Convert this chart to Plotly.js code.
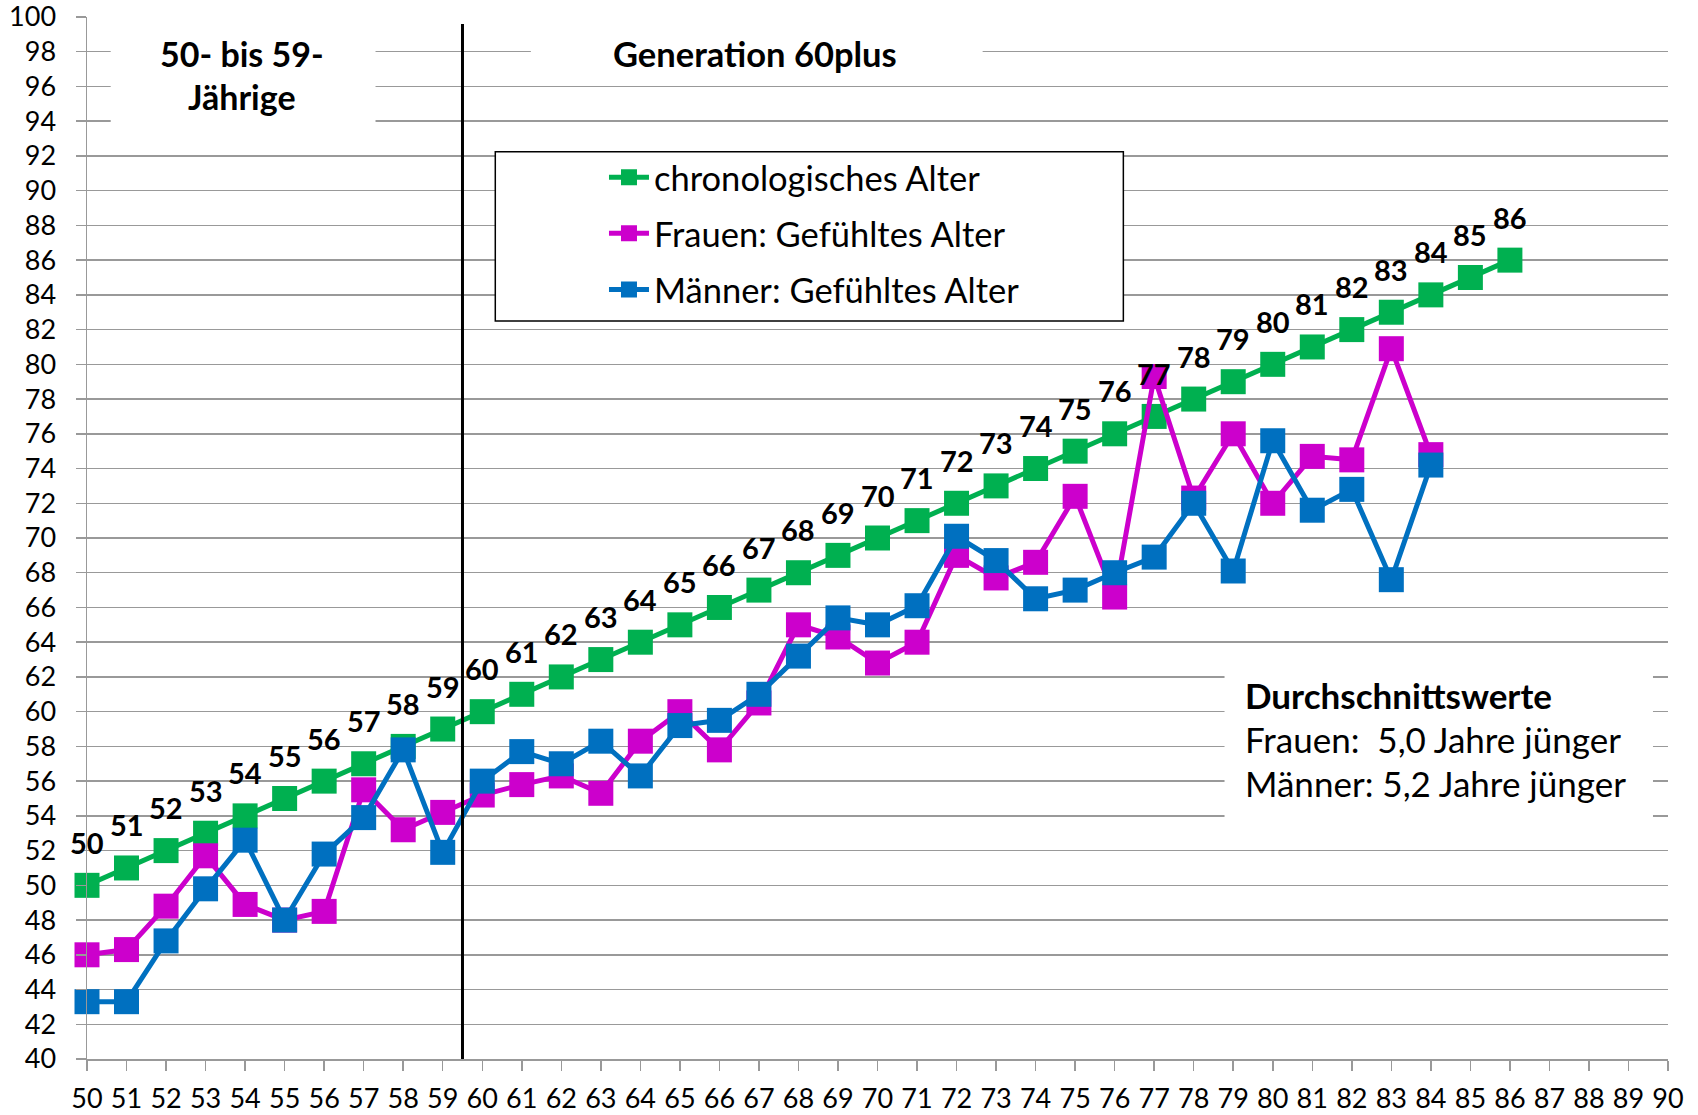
<!DOCTYPE html>
<html>
<head>
<meta charset="utf-8">
<script src="https://cdn.plot.ly/plotly-3.0.1.min.js"></script>
<style>html,body{margin:0;padding:0;background:#fff;}#chart{width:1698px;height:1115px;}</style>
</head>
<body>
<div id="chart"></div>
<script>
// ---- data ----
const ages = [50,51,52,53,54,55,56,57,58,59,60,61,62,63,64,65,66,67,68,69,70,71,72,73,74,75,76,77,78,79,80,81,82,83,84,85,86];
const chronologisch = [50,51,52,53,54,55,56,57,58,59,60,61,62,63,64,65,66,67,68,69,70,71,72,73,74,75,76,77,78,79,80,81,82,83,84,85,86];
const agesGefuehlt = [50,51,52,53,54,55,56,57,58,59,60,61,62,63,64,65,66,67,68,69,70,71,72,73,74,75,76,77,78,79,80,81,82,83,84];
const frauen = [46.0,46.3,48.8,51.7,48.9,48.0,48.5,55.5,53.2,54.2,55.2,55.8,56.3,55.3,58.3,60.0,57.8,60.5,65.0,64.3,62.8,64.0,69.0,67.7,68.6,72.4,66.6,79.3,72.3,76.0,72.0,74.7,74.5,80.9,74.8];
const maenner = [43.3,43.3,46.8,49.8,52.6,48.0,51.8,53.9,57.8,51.9,56.0,57.7,57.0,58.3,56.3,59.2,59.5,61.0,63.2,65.4,65.0,66.1,70.1,68.7,66.5,67.0,68.0,68.9,72.0,68.1,75.6,71.6,72.8,67.6,74.2];
const seriesNames = ["chronologisches Alter","Frauen: Gefühltes Alter","Männer: Gefühltes Alter"];
const groupLabels = ["50- bis 59-","Jährige","Generation 60plus"];
const avgTexts = ["<b>Durchschnittswerte</b>","Frauen:  5,0 Jahre jünger","Männer: 5,2 Jahre jünger"];

const FONT = "Lato, 'Open Sans', sans-serif";
const GREEN = "#00B050", MAGENTA = "#CC00CC", BLUE = "#0070C0";

function series(x, y, name, color, grp) {
  return {
    x: x, y: y, name: name, type: "scatter", mode: "lines+markers",
    line: {color: color, width: 5},
    marker: {symbol: "square", size: 25, color: color},
    cliponaxis: false, legendgroup: grp, hoverinfo: "x+y"
  };
}
const traces = [
  series(ages, chronologisch, seriesNames[0], GREEN, "g1"),
  series(agesGefuehlt, frauen, seriesNames[1], MAGENTA, "g2"),
  series(agesGefuehlt, maenner, seriesNames[2], BLUE, "g3")
];

const annotations = ages.map((a, i) => ({
  x: a, y: chronologisch[i], xref: "x", yref: "y", text: "<b>" + chronologisch[i] + "</b>",
  showarrow: false, yshift: 43, font: {family: FONT, size: 29, color: "#000"}
}));
annotations.push(
  {x: 53.93, y: 97.9, xref: "x", yref: "y", text: "<b>" + groupLabels[0] + "</b>", showarrow: false, font: {family: FONT, size: 34, color: "#000"}},
  {x: 53.93, y: 95.4, xref: "x", yref: "y", text: "<b>" + groupLabels[1] + "</b>", showarrow: false, font: {family: FONT, size: 34, color: "#000"}},
  {x: 66.9, y: 97.9, xref: "x", yref: "y", text: "<b>" + groupLabels[2] + "</b>", showarrow: false, font: {family: FONT, size: 34.5, color: "#000"}},
  {x: 79.25, y: 60.95, xref: "x", yref: "y", xanchor: "left", text: avgTexts[0], showarrow: false, font: {family: FONT, size: 35, color: "#000"}},
  {x: 79.25, y: 58.4, xref: "x", yref: "y", xanchor: "left", text: avgTexts[1], showarrow: false, font: {family: FONT, size: 35, color: "#000"}},
  {x: 79.25, y: 55.9, xref: "x", yref: "y", xanchor: "left", text: avgTexts[2], showarrow: false, font: {family: FONT, size: 35, color: "#000"}}
);

const shapes = [
  {type: "rect", xref: "x", yref: "y", x0: 50.6, x1: 57.3, y0: 92.9, y1: 99.2, fillcolor: "#fff", line: {width: 0}, layer: "between"},
  {type: "rect", xref: "x", yref: "y", x0: 61.23, x1: 72.66, y0: 97.0, y1: 99.0, fillcolor: "#fff", line: {width: 0}, layer: "between"},
  {type: "rect", xref: "x", yref: "y", x0: 78.78, x1: 89.62, y0: 53.0, y1: 63.0, fillcolor: "#fff", line: {width: 0}, layer: "between"},
  {type: "rect", xref: "x", yref: "y", x0: 60.33, x1: 76.22, y0: 82.5, y1: 92.24, fillcolor: "#fff", line: {width: 1.5, color: "#000"}, layer: "between"},
  {type: "line", xref: "x", yref: "y", x0: 59.5, x1: 59.5, y0: 40, y1: 99.6, line: {width: 3, color: "#000"}, layer: "above"}
];

const layout = {
  width: 1698, height: 1115,
  margin: {l: 87, r: 30, t: 17, b: 56},
  paper_bgcolor: "#fff", plot_bgcolor: "#fff",
  font: {family: FONT, size: 27, color: "#000"},
  showlegend: true,
  legend: {
    x: 0.327, y: 0.874, xanchor: "left", yanchor: "top",
    bgcolor: "rgba(0,0,0,0)", borderwidth: 0,
    font: {family: FONT, size: 34.5, color: "#000"},
    tracegroupgap: 8.3, itemwidth: 40, traceorder: "grouped"
  },
  xaxis: {
    range: [50, 90], dtick: 1, tick0: 50, showgrid: false, zeroline: false,
    showline: true, linecolor: "#999", linewidth: 1.5,
    ticks: "outside", ticklen: 10, tickcolor: "#999", tickwidth: 1.5,
    tickfont: {family: FONT, size: 27, color: "#000"}, ticklabelstandoff: 5,
    ticklabeloverflow: "allow"
  },
  yaxis: {
    range: [40, 100], dtick: 2, tick0: 40, showgrid: true, gridcolor: "#999", gridwidth: 1.5,
    zeroline: false, showline: true, linecolor: "#999", linewidth: 1.5,
    ticks: "outside", ticklen: 10, tickcolor: "#999", tickwidth: 1.5,
    tickfont: {family: FONT, size: 27, color: "#000"}, ticklabelstandoff: 14,
    ticklabeloverflow: "allow"
  },
  annotations: annotations,
  shapes: shapes
};

Plotly.newPlot("chart", traces, layout, {displayModeBar: false, staticPlot: true});
</script>
</body>
</html>
